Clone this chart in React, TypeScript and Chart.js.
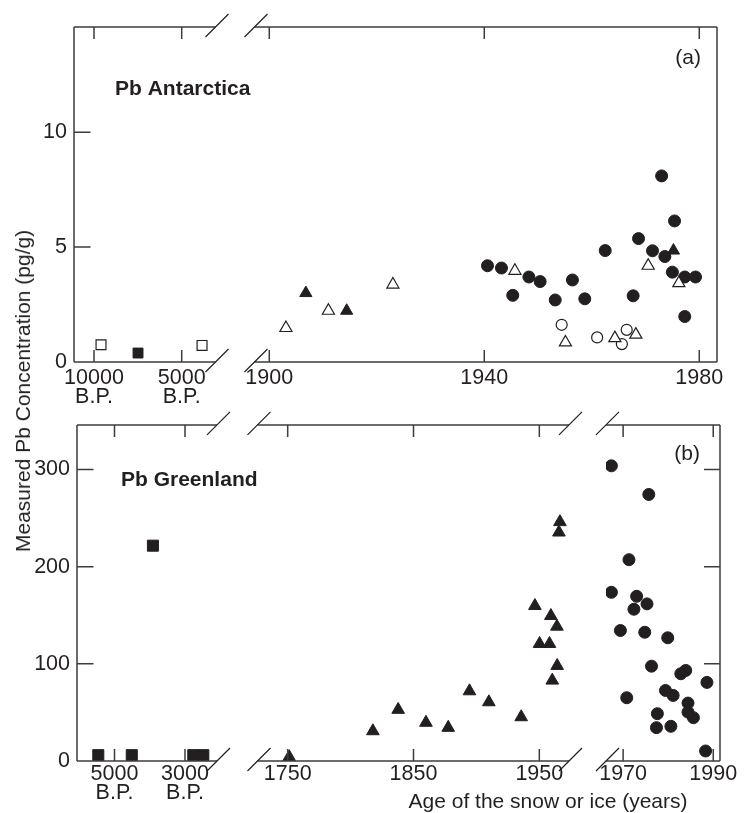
import React, { useEffect, useRef } from 'react';
import { Chart, registerables } from 'chart.js';

Chart.register(...registerables);

const FONT = "'Liberation Sans', Arial, Helvetica, sans-serif";
const INK = '#231f20';
const FRAME = '#3d3d3d';

// ---------------- Panel (a): Pb Antarctica ----------------
const aBpTicks = [10000, 5000];
const aYearTicks = [1900, 1940, 1980];
const aYTicks = [0, 5, 10];

const aOpenSqX = [9600, 3840];
const aOpenSqY = [0.75, 0.72];
const aFilledSqX = [7490];
const aFilledSqY = [0.39];

const aOpenTriX = [1903.1, 1911.0, 1923.0, 1945.7, 1955.1, 1964.3, 1968.2, 1970.5, 1976.2];
const aOpenTriY = [1.48, 2.23, 3.37, 3.97, 0.85, 1.04, 1.19, 4.19, 3.43];
const aFilledTriX = [1906.8, 1914.4, 1975.2];
const aFilledTriY = [3.0, 2.23, 4.85];

const aFilledCircX = [1940.6, 1943.2, 1945.3, 1948.3, 1950.4, 1953.2, 1956.4, 1958.7, 1962.5, 1967.7, 1968.7, 1971.3, 1973.0, 1973.6, 1975.4, 1975.0, 1977.3, 1979.3, 1977.3];
const aFilledCircY = [4.19, 4.09, 2.9, 3.7, 3.5, 2.7, 3.57, 2.75, 4.85, 2.88, 5.37, 4.84, 8.1, 4.59, 6.14, 3.91, 3.7, 3.7, 1.98];
const aOpenCircX = [1954.4, 1961.0, 1966.5, 1965.6];
const aOpenCircY = [1.62, 1.07, 1.4, 0.78];

// ---------------- Panel (b): Pb Greenland ----------------
const bBpTicks = [5000, 3000];
const bMidTicks = [1750, 1850, 1950];
const bRecentTicks = [1970, 1990];
const bYTicks = [0, 100, 200, 300];

const bSqX = [5460, 4510, 3910, 2765, 2480];
const bSqY = [6, 6, 221.6, 6, 6];

const bTriX = [1751.2, 1817.7, 1837.8, 1859.9, 1877.6, 1894.5, 1909.9, 1935.6, 1946.5, 1950.2, 1958.1, 1959.2, 1964.0, 1964.2, 1960.3, 1966.4, 1965.6];
const bTriY = [4.1, 30.8, 52.8, 39.5, 34.3, 71.9, 60.6, 45.2, 159.7, 120.6, 120.6, 149.4, 138.4, 98.0, 82.9, 246.0, 235.3];

const bCircX = [1967.4, 1975.7, 1971.3, 1967.4, 1973.0, 1972.4, 1975.3, 1969.4, 1974.8, 1979.9, 1976.3, 1982.8, 1983.9, 1988.6, 1970.8, 1979.4, 1981.1, 1984.4, 1984.4, 1985.6, 1977.6, 1977.4, 1980.6, 1988.3];
const bCircY = [303.8, 274.3, 207.2, 173.6, 169.5, 156.2, 161.7, 134.3, 132.5, 126.8, 97.6, 89.8, 93.2, 80.9, 65.1, 72.6, 67.5, 59.6, 50.3, 44.6, 48.7, 34.3, 35.7, 10.3];

const pts = (xs: number[], ys: number[]) => xs.map((x, i) => ({ x, y: ys[i] }));

type Seg = {
  id: string;
  weight: number;
  gap?: boolean;
  min?: number;
  max?: number;
  reverse?: boolean;
  ticks?: number[];
  bp?: boolean;
};

function buildXScale(seg: Seg, padding: number) {
  const base: any = {
    type: 'linear',
    position: 'bottom',
    stack: 'xs',
    stackWeight: seg.weight,
    grid: { display: false, drawTicks: false },
    border: { display: false },
    afterFit: (s: any) => {
      s.height = 44;
    },
  };
  if (seg.gap) {
    return { ...base, min: 0, max: 1, ticks: { display: false } };
  }
  return {
    ...base,
    min: seg.min,
    max: seg.max,
    reverse: !!seg.reverse,
    afterBuildTicks: (s: any) => {
      s.ticks = (seg.ticks || []).map((v) => ({ value: v }));
    },
    ticks: {
      autoSkip: false,
      maxRotation: 0,
      minRotation: 0,
      padding,
      color: INK,
      font: { family: FONT, size: 21.5, lineHeight: 0.88 },
      callback: (v: any) => (seg.bp ? [String(v), 'B.P.'] : String(v)),
    },
  };
}

function buildYScale(max: number, ticks: number[], width: number) {
  return {
    type: 'linear',
    position: 'left',
    min: 0,
    max,
    grid: { display: false, drawTicks: false },
    border: { display: false },
    afterBuildTicks: (s: any) => {
      s.ticks = ticks.map((v) => ({ value: v }));
    },
    ticks: { padding: 7, color: INK, font: { family: FONT, size: 21.5 } },
    afterFit: (s: any) => {
      s.width = width;
    },
  };
}

type Txt = { text: string; dx: number; dy: number; bold?: boolean; align: CanvasTextAlign; from: 'left' | 'right' };

function framePlugin(segs: Seg[], rightTicks: boolean, texts: Txt[], extra?: { text: string; x: number; y: number }) {
  return {
    id: 'brokenFrame',
    afterDraw(chart: any) {
      const ctx: CanvasRenderingContext2D = chart.ctx;
      const { left, right, top, bottom } = chart.chartArea;
      ctx.save();
      ctx.strokeStyle = FRAME;
      ctx.lineWidth = 1.5;
      ctx.beginPath();
      ctx.moveTo(left, top);
      ctx.lineTo(left, bottom);
      ctx.moveTo(right, top);
      ctx.lineTo(right, bottom);
      for (const seg of segs) {
        if (seg.gap) continue;
        const s = chart.scales[seg.id];
        ctx.moveTo(s.left, top);
        ctx.lineTo(s.right, top);
        ctx.moveTo(s.left, bottom);
        ctx.lineTo(s.right, bottom);
        for (const t of s.ticks) {
          const px = s.getPixelForValue(t.value);
          ctx.moveTo(px, bottom);
          ctx.lineTo(px, bottom - 12);
          ctx.moveTo(px, top);
          ctx.lineTo(px, top + 12);
        }
      }
      const y = chart.scales.y;
      for (const t of y.ticks) {
        if (t.value === 0) continue;
        const py = y.getPixelForValue(t.value);
        ctx.moveTo(left, py);
        ctx.lineTo(left + 16.5, py);
        if (rightTicks) {
          ctx.moveTo(right, py);
          ctx.lineTo(right - 16, py);
        }
      }
      ctx.stroke();

      ctx.strokeStyle = INK;
      ctx.lineWidth = 1.2;
      ctx.beginPath();
      for (const seg of segs) {
        if (!seg.gap) continue;
        const g = chart.scales[seg.id];
        for (const x of [g.left, g.right]) {
          for (const yy of [top, bottom]) {
            ctx.moveTo(x - 10, yy + 10);
            ctx.lineTo(x + 13, yy - 13);
          }
        }
      }
      ctx.stroke();

      ctx.fillStyle = INK;
      ctx.textBaseline = 'alphabetic';
      for (const t of texts) {
        ctx.font = `${t.bold ? 'bold ' : ''}21px ${FONT}`;
        ctx.textAlign = t.align;
        const x = t.from === 'left' ? left + t.dx : right + t.dx;
        ctx.fillText(t.text, x, top + t.dy);
      }
      if (extra) {
        ctx.font = `21px ${FONT}`;
        ctx.textAlign = 'center';
        ctx.fillText(extra.text, extra.x, extra.y);
      }
      ctx.restore();
    },
  };
}

const filled = (data: any[], xAxisID: string, pointStyle: string, radius: number) => ({
  data,
  xAxisID,
  yAxisID: 'y',
  pointStyle,
  pointRadius: radius,
  backgroundColor: INK,
  borderColor: INK,
  borderWidth: 1,
  showLine: false,
});

const hollow = (data: any[], xAxisID: string, pointStyle: string, radius: number) => ({
  data,
  xAxisID,
  yAxisID: 'y',
  pointStyle,
  pointRadius: radius,
  backgroundColor: '#ffffff',
  borderColor: INK,
  borderWidth: 1.2,
  showLine: false,
});

export default function App() {
  const refA = useRef<HTMLCanvasElement>(null);
  const refB = useRef<HTMLCanvasElement>(null);

  useEffect(() => {
    const segsA: Seg[] = [
      { id: 'xa1', weight: 141.5, min: 3073, max: 11140, reverse: true, ticks: aBpTicks, bp: true },
      { id: 'xagap', weight: 39, gap: true },
      { id: 'xa2', weight: 462.5, min: 1897.25, max: 1983.3, ticks: aYearTicks },
    ];
    const scalesA: any = {};
    for (const s of segsA) scalesA[s.id] = buildXScale(s, 7);
    scalesA.y = buildYScale(14.58, aYTicks, 74);

    const chartA = new Chart(refA.current as HTMLCanvasElement, {
      type: 'scatter',
      data: {
        datasets: [
          hollow(pts(aOpenSqX, aOpenSqY), 'xa1', 'rect', 7),
          filled(pts(aFilledSqX, aFilledSqY), 'xa1', 'rect', 7),
          hollow(pts(aOpenTriX, aOpenTriY), 'xa2', 'triangle', 7),
          filled(pts(aFilledTriX, aFilledTriY), 'xa2', 'triangle', 7),
          filled(pts(aFilledCircX, aFilledCircY), 'xa2', 'circle', 6),
          hollow(pts(aOpenCircX, aOpenCircY), 'xa2', 'circle', 5.5),
        ] as any,
      },
      options: {
        responsive: false,
        animation: false,
        layout: { padding: { top: 27, right: 30, bottom: 4, left: 0 } },
        plugins: { legend: { display: false }, tooltip: { enabled: false } },
        scales: scalesA,
      } as any,
      plugins: [
        framePlugin(segsA, false, [
          { text: 'Pb Antarctica', dx: 41, dy: 68, bold: true, align: 'left', from: 'left' },
          { text: '(a)', dx: -16, dy: 37, align: 'right', from: 'right' },
        ]),
      ],
    });

    const segsB: Seg[] = [
      { id: 'xb1', weight: 140, min: 2092, max: 6064, reverse: true, ticks: bBpTicks, bp: true },
      { id: 'xbgap1', weight: 40.5, gap: true },
      { id: 'xb2', weight: 311.5, min: 1726, max: 1973.6, ticks: bMidTicks },
      { id: 'xbgap2', weight: 37, gap: true },
      { id: 'xb3', weight: 114, min: 1966.2, max: 1991.5, ticks: bRecentTicks },
    ];
    const scalesB: any = {};
    for (const s of segsB) scalesB[s.id] = buildXScale(s, 4);
    scalesB.y = buildYScale(345.9, bYTicks, 77);

    const chartB = new Chart(refB.current as HTMLCanvasElement, {
      type: 'scatter',
      data: {
        datasets: [
          filled(pts(bSqX, bSqY), 'xb1', 'rect', 7.8),
          filled(pts(bTriX, bTriY), 'xb2', 'triangle', 7.3),
          filled(pts(bCircX, bCircY), 'xb3', 'circle', 6),
        ] as any,
      },
      options: {
        responsive: false,
        animation: false,
        layout: { padding: { top: 19, right: 27, bottom: 8, left: 0 } },
        plugins: { legend: { display: false }, tooltip: { enabled: false } },
        scales: scalesB,
      } as any,
      plugins: [
        framePlugin(
          segsB,
          true,
          [
            { text: 'Pb Greenland', dx: 44, dy: 61, bold: true, align: 'left', from: 'left' },
            { text: '(b)', dx: -20, dy: 35, align: 'right', from: 'right' },
          ],
          { text: 'Age of the snow or ice (years)', x: 548, y: 403 }
        ),
      ],
    });

    return () => {
      chartA.destroy();
      chartB.destroy();
    };
  }, []);

  return (
    <div style={{ position: 'absolute', left: 0, top: 0, width: 747, height: 813, background: '#ffffff' }}>
      <canvas ref={refA} width={747} height={410} style={{ position: 'absolute', left: 0, top: 0, display: 'block' }} />
      <canvas ref={refB} width={747} height={408} style={{ position: 'absolute', left: 0, top: 405, display: 'block' }} />
      <div
        style={{
          position: 'absolute',
          left: 23,
          top: 391,
          transform: 'translate(-50%, -50%) rotate(-90deg)',
          whiteSpace: 'nowrap',
          fontFamily: FONT,
          fontSize: 21,
          color: INK,
          lineHeight: '24px',
        }}
      >
        Measured Pb Concentration (pg/g)
      </div>
    </div>
  );
}
